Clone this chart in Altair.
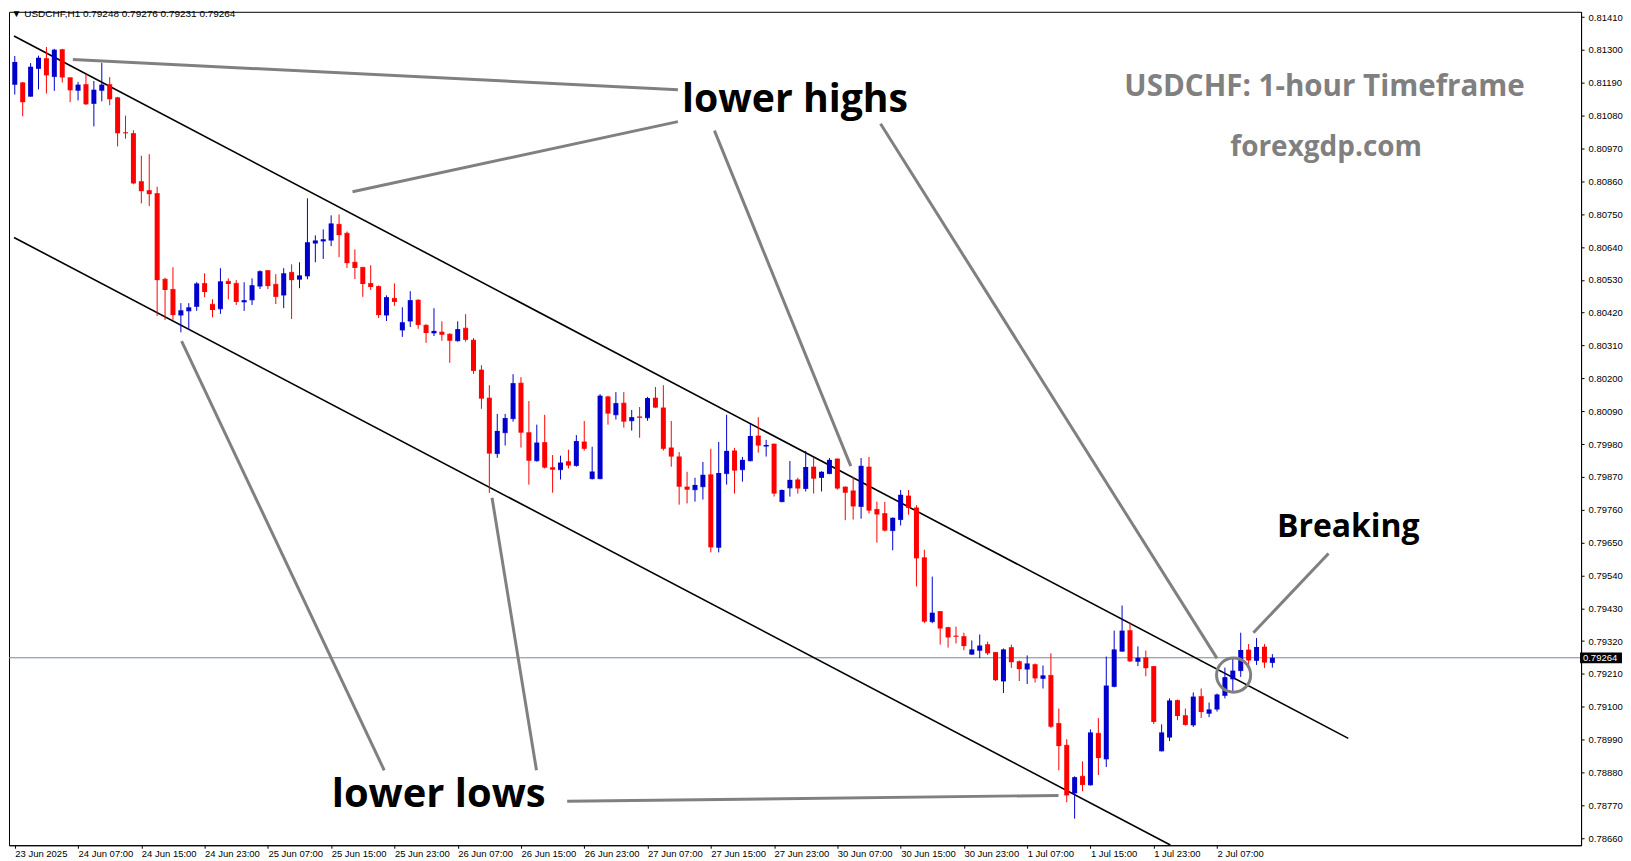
import altair as alt
import pandas as pd

# ---------------- candle data (USDCHF H1) ----------------
open_ = [0.81185,0.81190,0.81145,0.81238,0.81271,0.81211,0.81301,0.81207,0.81165,0.81184,
         0.81121,0.81165,0.81184,0.81140,0.81023,0.81020,0.80859,0.80829,0.80819,0.80532,
         0.80498,0.80412,0.80426,0.80441,0.80518,0.80448,0.80433,0.80525,0.80518,0.80456,
         0.80463,0.80509,0.80561,0.80515,0.80479,0.80555,0.80532,0.80543,0.80653,0.80660,
         0.80663,0.80716,0.80686,0.80589,0.80572,0.80518,0.80508,0.80412,0.80468,0.80362,
         0.80392,0.80462,0.80378,0.80352,0.80355,0.80348,0.80326,0.80368,0.80328,0.80228,
         0.80134,0.79948,0.80018,0.80065,0.80184,0.80018,0.79924,0.79985,0.79901,0.79894,
         0.79921,0.79908,0.79987,0.79864,0.79864,0.80138,0.80078,0.80117,0.80058,0.80071,
         0.80068,0.80134,0.80101,0.79967,0.79937,0.79836,0.79827,0.79837,0.79877,0.79634,
         0.79881,0.79957,0.79894,0.79924,0.80007,0.79973,0.79980,0.79787,0.79833,0.79860,
         0.79831,0.79903,0.79868,0.79881,0.79930,0.79836,0.79823,0.79771,0.79903,0.79761,
         0.79747,0.79690,0.79727,0.79806,0.79766,0.79599,0.79385,0.79419,0.79365,0.79337,
         0.79335,0.79276,0.79289,0.79308,0.79282,0.79186,0.79298,0.79251,0.79226,0.79241,
         0.79195,0.79205,0.79044,0.78971,0.78811,0.78867,0.78838,0.79011,0.78925,0.79168,
         0.79286,0.79355,0.79252,0.79264,0.79235,0.78952,0.78998,0.79121,0.79070,0.79039,
         0.79134,0.79078,0.79092,0.79138,0.79193,0.79221,0.79290,0.79255,0.79300,0.79248]
high = [0.81280,0.81193,0.81256,0.81281,0.81310,0.81304,0.81304,0.81208,0.81193,0.81220,
        0.81196,0.81257,0.81209,0.81143,0.81080,0.81031,0.80946,0.80951,0.80842,0.80537,
        0.80572,0.80452,0.80452,0.80522,0.80552,0.80465,0.80569,0.80535,0.80529,0.80522,
        0.80535,0.80562,0.80562,0.80549,0.80569,0.80582,0.80589,0.80803,0.80679,0.80699,
        0.80746,0.80749,0.80692,0.80632,0.80573,0.80579,0.80511,0.80478,0.80518,0.80438,
        0.80492,0.80465,0.80381,0.80435,0.80391,0.80351,0.80391,0.80415,0.80335,0.80244,
        0.80177,0.80081,0.80081,0.80214,0.80204,0.80124,0.80045,0.80078,0.79943,0.79941,
        0.79961,0.80010,0.80057,0.79971,0.80147,0.80142,0.80154,0.80154,0.80094,0.80104,
        0.80138,0.80171,0.80177,0.80057,0.79953,0.79887,0.79867,0.79920,0.79964,0.79987,
        0.80078,0.79967,0.79937,0.80047,0.80070,0.79994,0.79981,0.79828,0.79923,0.79867,
        0.79957,0.79933,0.79889,0.79933,0.79931,0.79838,0.79870,0.79933,0.79937,0.79787,
        0.79786,0.79734,0.79826,0.79826,0.79775,0.79626,0.79536,0.79420,0.79368,0.79368,
        0.79348,0.79322,0.79342,0.79318,0.79283,0.79295,0.79308,0.79255,0.79272,0.79245,
        0.79238,0.79279,0.79094,0.78991,0.78867,0.78917,0.79024,0.79062,0.79268,0.79355,
        0.79439,0.79382,0.79302,0.79288,0.79236,0.79041,0.79128,0.79124,0.79094,0.79148,
        0.79161,0.79114,0.79144,0.79231,0.79261,0.79348,0.79310,0.79330,0.79310,0.79276]
low = [0.81151,0.81078,0.81144,0.81168,0.81154,0.81163,0.81191,0.81125,0.81131,0.81116,
       0.81044,0.81128,0.81115,0.80977,0.81003,0.80850,0.80786,0.80777,0.80409,0.80396,
       0.80396,0.80354,0.80362,0.80426,0.80472,0.80405,0.80416,0.80465,0.80446,0.80426,
       0.80446,0.80499,0.80499,0.80449,0.80435,0.80399,0.80502,0.80532,0.80589,0.80600,
       0.80643,0.80606,0.80570,0.80533,0.80473,0.80496,0.80402,0.80392,0.80443,0.80339,
       0.80372,0.80366,0.80319,0.80342,0.80326,0.80252,0.80323,0.80323,0.80215,0.80098,
       0.79816,0.79934,0.79975,0.80055,0.79968,0.79844,0.79921,0.79898,0.79817,0.79861,
       0.79898,0.79904,0.79958,0.79861,0.79862,0.80045,0.80062,0.80035,0.80025,0.80001,
       0.80058,0.80101,0.79958,0.79904,0.79777,0.79781,0.79787,0.79794,0.79617,0.79617,
       0.79844,0.79814,0.79854,0.79922,0.79951,0.79938,0.79804,0.79785,0.79804,0.79814,
       0.79821,0.79814,0.79821,0.79879,0.79827,0.79725,0.79727,0.79730,0.79747,0.79650,
       0.79687,0.79624,0.79707,0.79743,0.79503,0.79380,0.79380,0.79308,0.79298,0.79312,
       0.79289,0.79274,0.79263,0.79273,0.79186,0.79146,0.79230,0.79186,0.79176,0.79181,
       0.79161,0.79029,0.78887,0.78780,0.78725,0.78817,0.78836,0.78871,0.78898,0.79165,
       0.79284,0.79250,0.79236,0.79202,0.79042,0.78950,0.78985,0.79055,0.79037,0.79032,
       0.79062,0.79065,0.79084,0.79128,0.79152,0.79200,0.79230,0.79240,0.79230,0.79231]
close = [0.81260,0.81125,0.81244,0.81274,0.81215,0.81301,0.81208,0.81165,0.81184,0.81118,
         0.81167,0.81184,0.81135,0.81021,0.81021,0.80853,0.80827,0.80817,0.80529,0.80496,
         0.80412,0.80428,0.80438,0.80518,0.80489,0.80429,0.80525,0.80516,0.80456,0.80462,
         0.80512,0.80559,0.80509,0.80473,0.80552,0.80529,0.80545,0.80656,0.80662,0.80666,
         0.80719,0.80680,0.80586,0.80570,0.80516,0.80506,0.80412,0.80472,0.80456,0.80388,
         0.80462,0.80379,0.80352,0.80359,0.80346,0.80326,0.80365,0.80329,0.80225,0.80132,
         0.79948,0.80024,0.80067,0.80184,0.80018,0.79924,0.79985,0.79901,0.79894,0.79918,
         0.79908,0.79990,0.79964,0.79888,0.80142,0.80082,0.80117,0.80055,0.80070,0.80068,
         0.80134,0.80102,0.79964,0.79938,0.79837,0.79827,0.79843,0.79877,0.79634,0.79883,
         0.79957,0.79891,0.79927,0.80007,0.79975,0.79977,0.79814,0.79826,0.79860,0.79831,
         0.79903,0.79864,0.79887,0.79927,0.79831,0.79817,0.79771,0.79907,0.79757,0.79744,
         0.79690,0.79733,0.79810,0.79766,0.79597,0.79385,0.79415,0.79362,0.79332,0.79335,
         0.79303,0.79292,0.79305,0.79279,0.79189,0.79292,0.79249,0.79226,0.79245,0.79195,
         0.79205,0.79033,0.78968,0.78803,0.78864,0.78838,0.79014,0.78928,0.79171,0.79292,
         0.79355,0.79252,0.79264,0.79229,0.79049,0.79014,0.79121,0.79069,0.79039,0.79134,
         0.79082,0.79091,0.79141,0.79199,0.79221,0.79290,0.79255,0.79300,0.79248,0.79264]

time_labels = ["23 Jun 2025", "24 Jun 07:00", "24 Jun 15:00", "24 Jun 23:00", "25 Jun 07:00",
               "25 Jun 15:00", "25 Jun 23:00", "26 Jun 07:00", "26 Jun 15:00", "26 Jun 23:00",
               "27 Jun 07:00", "27 Jun 15:00", "27 Jun 23:00", "30 Jun 07:00", "30 Jun 15:00",
               "30 Jun 23:00", "1 Jul 07:00", "1 Jul 15:00", "1 Jul 23:00", "2 Jul 07:00"]
time_ticks = [0, 8, 16, 24, 32, 40, 48, 56, 64, 72, 80, 88, 96, 104, 112, 120, 128, 136, 144, 152]
price_ticks = [0.78660, 0.78770, 0.78880, 0.78990, 0.79100, 0.79210, 0.79320, 0.79430, 0.79540,
               0.79650, 0.79760, 0.79870, 0.79980, 0.80090, 0.80200, 0.80310, 0.80420, 0.80530,
               0.80640, 0.80750, 0.80860, 0.80970, 0.81080, 0.81190, 0.81300, 0.81410]

current_price = [0.79264]
header_text = ["\u25BC USDCHF,H1  0.79248 0.79276 0.79231 0.79264"]
header_pos = [-0.4, 0.81419]

# channel lines (bar index, price)
ch_x1 = [-0.1, -0.1]
ch_p1 = [0.81347, 0.80672]
ch_x2 = [168.6, 146.1]
ch_p2 = [0.78994, 0.78637]

# grey annotation pointers
an_x1 = [7.34, 42.7, 88.46, 109.46, 21.09, 60.34, 69.84, 166.1]
an_p1 = [0.81268, 0.80825, 0.81030, 0.81053, 0.80325, 0.79800, 0.78783, 0.79613]
an_x2 = [83.84, 83.84, 105.7, 152.0, 46.71, 65.96, 131.96, 156.6]
an_p2 = [0.81167, 0.81060, 0.79906, 0.79262, 0.78887, 0.78887, 0.78803, 0.79348]

circle_pos = [154.1, 0.79206]

ann_text = ["lower highs", "lower lows", "Breaking", "USDCHF: 1-hour Timeframe", "forexgdp.com"]
ann_x = [98.65, 53.6, 168.6, 165.6, 165.8]
ann_p = [0.81133, 0.78804, 0.79703, 0.81177, 0.80973]
ann_size = [39.3, 40, 32, 29.6, 28]
ann_color = ["#000000", "#000000", "#000000", "#808080", "#808080"]

# ---------------- build chart ----------------
W, H = 1575, 835
X_DOM = [-0.1, 197.4]
Y_DOM = [0.78636, 0.81428]

df = pd.DataFrame({"i": list(range(len(open_))), "o": open_, "h": high, "l": low, "c": close})
df["dir"] = ["up" if c >= o else "down" for o, c in zip(open_, close)]

xs = alt.Scale(domain=X_DOM, nice=False, zero=False)
ys = alt.Scale(domain=Y_DOM, nice=False, zero=False)

label_expr = "[" + ",".join("'" + t + "'" for t in time_labels) + "][round(datum.value/8)]"
x_axis = alt.Axis(values=time_ticks, labelExpr=label_expr, title=None, grid=False,
                  orient="bottom", labelAlign="left", tickSize=3, labelPadding=0,
                  labelFont="Liberation Sans", labelFontSize=9.5, labelColor="#000000",
                  tickColor="#000000", domainColor="#000000", labelOverlap=False,
                  labelFlush=False, labelBound=False)
y_axis = alt.Axis(values=price_ticks, format=".5f", orient="right", title=None, grid=False,
                  tickSize=3, labelPadding=4, labelFont="Liberation Sans", labelFontSize=9.5,
                  labelColor="#000000", tickColor="#000000", domainColor="#000000",
                  labelOverlap=False, labelFlush=False, labelBound=False)


def X(field):
    return alt.X(field, scale=xs, axis=x_axis)


def Y(field):
    return alt.Y(field, scale=ys, axis=y_axis)


col = alt.Color("dir:N", scale=alt.Scale(domain=["up", "down"], range=["#0000CD", "#FF0000"]),
                legend=None)

base = alt.Chart(df)
wicks = base.mark_rule(strokeWidth=1).encode(x=X("i:Q"), y=Y("l:Q"), y2="h:Q", color=col)
bodies = base.mark_bar(size=5).encode(x=X("i:Q"), y=Y("o:Q"), y2="c:Q", color=col)
dojis = base.mark_tick(orient="horizontal", size=5, thickness=1).encode(
    x=X("i:Q"), y=Y("o:Q"), color=col)

cur_df = pd.DataFrame({"p": current_price})
cur_line = alt.Chart(cur_df).mark_rule(color="#778899", strokeWidth=1).encode(
    y=Y("p:Q"), x=alt.value(0), x2=alt.value(W))

ch_df = pd.DataFrame({"x1": ch_x1, "p1": ch_p1, "x2": ch_x2, "p2": ch_p2})
channels = alt.Chart(ch_df).mark_rule(color="#000000", strokeWidth=1.6, clip=True).encode(
    x=X("x1:Q"), y=Y("p1:Q"), x2="x2:Q", y2="p2:Q")

an_df = pd.DataFrame({"x1": an_x1, "p1": an_p1, "x2": an_x2, "p2": an_p2})
pointers = alt.Chart(an_df).mark_rule(color="#808080", strokeWidth=3).encode(
    x=X("x1:Q"), y=Y("p1:Q"), x2="x2:Q", y2="p2:Q")

circ_df = pd.DataFrame({"x": [circle_pos[0]], "p": [circle_pos[1]]})
circle = alt.Chart(circ_df).mark_point(shape="circle", size=1170, filled=False,
                                       stroke="#808080", strokeWidth=3, opacity=1).encode(
    x=X("x:Q"), y=Y("p:Q"))

ann_df = pd.DataFrame({"t": ann_text, "x": ann_x, "p": ann_p, "fs": ann_size, "col": ann_color})
ann = alt.Chart(ann_df).mark_text(font="Open Sans", fontWeight="bold", align="center",
                                  baseline="middle").encode(
    x=X("x:Q"), y=Y("p:Q"), text="t:N", size=alt.Size("fs:Q", scale=None),
    color=alt.Color("col:N", scale=None))

hdr_df = pd.DataFrame({"t": header_text, "x": [header_pos[0]], "p": [header_pos[1]]})
header = alt.Chart(hdr_df).mark_text(font="Liberation Sans", fontSize=10, align="left",
                                     baseline="middle", color="#000000").encode(
    x=X("x:Q"), y=Y("p:Q"), text="t:N")

# current price tag on the price scale
tag_df = pd.DataFrame({"x1": [197.9], "x2": [203.2], "p1": [current_price[0] + 0.00018],
                       "p2": [current_price[0] - 0.00018], "t": ["%.5f" % current_price[0]],
                       "xt": [198.27], "p": current_price})
tag_box = alt.Chart(tag_df).mark_rect(color="#000000").encode(
    x=X("x1:Q"), x2="x2:Q", y=Y("p1:Q"), y2="p2:Q")
tag_txt = alt.Chart(tag_df).mark_text(font="Liberation Sans", fontSize=9.5, align="left",
                                      baseline="middle", color="#FFFFFF").encode(
    x=X("xt:Q"), y=Y("p:Q"), text="t:N")

chart = alt.layer(cur_line, channels, wicks, bodies, dojis, pointers, circle, ann, header,
                  tag_box, tag_txt).properties(
    width=W, height=H, padding=0, background="#FFFFFF"
).configure_view(stroke="#000000", strokeWidth=1)

chart.save("out.html", embed_options={"renderer": "svg", "actions": False})
